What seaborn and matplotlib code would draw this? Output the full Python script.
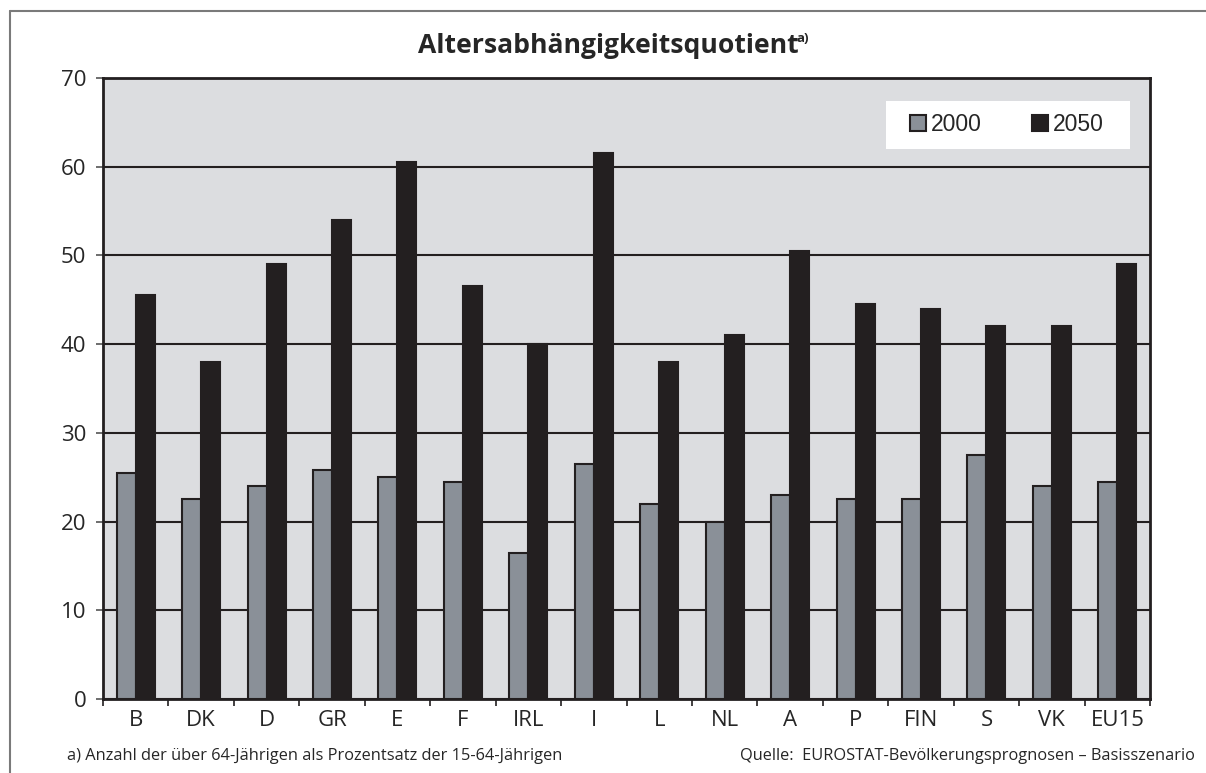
import numpy as np
import pandas as pd
import matplotlib
matplotlib.use('Agg')
import matplotlib.pyplot as plt
from matplotlib.lines import Line2D
from matplotlib.patches import Patch, Rectangle
import seaborn as sns

laender = ['B', 'DK', 'D', 'GR', 'E', 'F', 'IRL', 'I', 'L', 'NL', 'A', 'P', 'FIN', 'S', 'VK', 'EU15']
werte_2000 = [25.5, 22.5, 24.0, 25.8, 25.0, 24.5, 16.5, 26.5, 22.0, 20.0, 23.0, 22.5, 22.5, 27.5, 24.0, 24.5]
werte_2050 = [45.5, 38.0, 49.0, 54.0, 60.5, 46.5, 40.0, 61.5, 38.0, 41.0, 50.5, 44.5, 44.0, 42.0, 42.0, 49.0]
jahre = ['2000', '2050']
y_ticks = [0, 10, 20, 30, 40, 50, 60, 70]

df = pd.DataFrame({
    'Land': laender * 2,
    'Jahr': ['2000'] * len(laender) + ['2050'] * len(laender),
    'Wert': werte_2000 + werte_2050,
})

GRAU = '#8a9098'
SCHWARZ = '#231f20'
HINTERGRUND = '#dcdde0'

sns.set_style('white')
plt.rcParams['font.family'] = ['Open Sans', 'DejaVu Sans']

fig = plt.figure(figsize=(12.06, 7.73), dpi=100)
ax = fig.add_axes([0.0854, 0.0957, 0.8682, 0.8034])
ax.set_facecolor(HINTERGRUND)

sns.barplot(data=df, x='Land', y='Wert', hue='Jahr', order=laender, hue_order=jahre,
            palette=[GRAU, SCHWARZ], width=0.58, gap=0, edgecolor=SCHWARZ,
            linewidth=1.5, saturation=1, ax=ax, zorder=3)

ax.set_ylim(0, 70)
ax.set_xlim(-0.5, len(laender) - 0.5)
ax.set_yticks(y_ticks)
ax.yaxis.grid(True, color=SCHWARZ, linewidth=1.5)
ax.set_axisbelow(True)
for s in ax.spines.values():
    s.set_color(SCHWARZ)
    s.set_linewidth(2)

ax.set_xlabel('')
ax.set_ylabel('')
ax.tick_params(axis='y', length=5, width=1.2, color='#555555', labelsize=16, pad=7, left=True)
ax.tick_params(axis='x', which='major', length=0, labelsize=16, pad=8)
ax.set_xticks(np.arange(-0.5, len(laender)), minor=True)
ax.tick_params(axis='x', which='minor', length=5, width=1.2, color=SCHWARZ, bottom=True)

# Legende: weisses Feld + Eintraege
ax.get_legend().remove()
fig.add_artist(Rectangle((886 / 1206, 1 - 149 / 773), 244 / 1206, 48 / 773,
                         transform=fig.transFigure, facecolor='white', edgecolor='none',
                         zorder=4))
handles = [Patch(facecolor=GRAU, edgecolor=SCHWARZ, linewidth=1.5),
           Patch(facecolor=SCHWARZ, edgecolor=SCHWARZ, linewidth=1.5)]
leg = fig.legend(handles, jahre, ncol=2, loc='center',
                 bbox_to_anchor=(1006.5 / 1206, 1 - 125 / 773, 0.0001, 0.0001),
                 frameon=False, handlelength=0.7, handleheight=0.7, handletextpad=0.2,
                 columnspacing=2.2, borderpad=0, borderaxespad=0,
                 prop={'family': 'Liberation Sans', 'size': 16.5})
leg.set_zorder(5)

# Titel
titel = fig.text(0.5045, 0.941, 'Altersabhängigkeitsquotient', ha='center', va='center',
                 fontsize=19.1, fontweight='bold')
fig.canvas.draw()
bb = titel.get_window_extent()
fig.text(bb.x1 / fig.bbox.width - 0.0015, bb.y1 / fig.bbox.height - 0.008, 'a)',
         ha='left', va='center', fontsize=9.5, fontweight='bold')

# Fussnoten
fig.text(0.0555, 0.022, 'a) Anzahl der über 64-Jährigen als Prozentsatz der 15-64-Jährigen',
         ha='left', va='center', fontsize=11.8)
fig.text(0.991, 0.022, 'Quelle:  EUROSTAT-Bevölkerungsprognosen – Basisszenario',
         ha='right', va='center', fontsize=11.8)

# Rahmen
fig.add_artist(Line2D([0.0083, 0.0083], [0, 0.986], color='#7a7a7a', linewidth=1.5))
fig.add_artist(Line2D([0.0083, 1.0], [0.986, 0.986], color='#7a7a7a', linewidth=1.5))

fig.savefig('out.png', dpi=100)
